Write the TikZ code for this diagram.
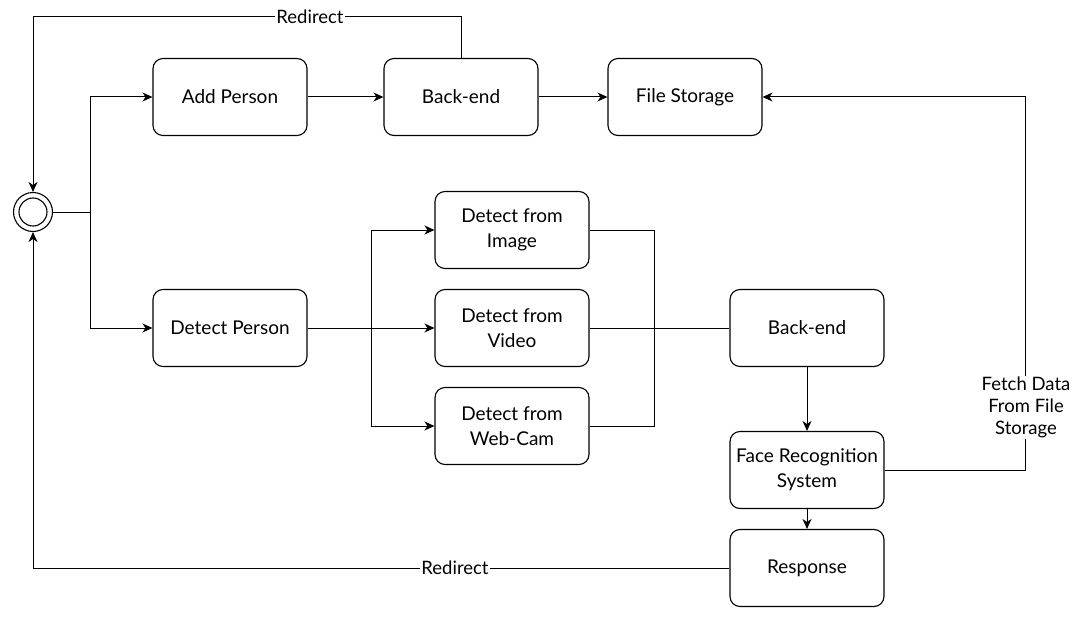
\documentclass[tikz,border=0pt]{standalone}
\usepackage{fontspec}
\setmainfont{Lato}
\usetikzlibrary{arrows.meta,calc}
\begin{document}
\begin{tikzpicture}[x=1pt,y=-1pt,
  box/.style={draw,line width=1.1pt,rounded corners=10pt,minimum width=154pt,minimum height=77pt,align=center,font=\fontsize{19}{25}\selectfont,inner sep=2pt},
  conn/.style={line width=1pt},
  arr/.style={conn,-{Stealth[length=10pt,width=9pt,inset=3pt]}},
  lbl/.style={fill=white,inner sep=1pt,font=\fontsize{18.5}{22}\selectfont,align=center}]
\useasboundingbox (0,0) rectangle (1077,634);
% nodes
\node[circle,draw,line width=1.1pt,minimum size=39pt,inner sep=0pt,
  path picture={\draw[line width=1.1pt] (path picture bounding box.center) circle (14pt);}] (start) at (33,212) {};
\node[box] (add) at (230,97) {Add Person};
\node[box] (be1) at (461,97) {Back-end};
\node[box] (fs) at (685,97) {File Storage};
\node[box] (detp) at (230,328) {Detect Person};
\node[box] (dimg) at (512,230) {Detect from\\Image};
\node[box] (dvid) at (512,328) {Detect from\\Video};
\node[box] (dcam) at (512,426) {Detect from\\Web-Cam};
\node[box] (be2) at (807,328) {Back-end};
\node[box] (frs) at (807,470) {Face Recognition\\System};
\node[box] (resp) at (807,568) {Response};
% junctions
\coordinate (j1) at (90,212);
\coordinate (j2) at (371,328);
\coordinate (j3) at (654,328);
\coordinate (j4) at (1025,470);
\coordinate (j5) at (33,568);
\coordinate (t1) at (461,17);
\coordinate (t2) at (33,17);
% connectors
\draw[conn] (start) -- (j1);
\draw[arr] (j1) |- (add);
\draw[arr] (j1) |- (detp);
\draw[arr] (add) -- (be1);
\draw[arr] (be1) -- (fs);
\draw[arr] (be1.north) -- (t1) -- (t2) -- (start.north);
\draw[conn] (detp) -- (j2);
\draw[arr] (j2) |- (dimg);
\draw[arr] (j2) -- (dvid);
\draw[arr] (j2) |- (dcam);
\draw[conn] (dimg) -| (j3);
\draw[conn] (dcam) -| (j3);
\draw[conn] (dvid) -- (be2);
\draw[arr] (be2) -- (frs);
\draw[arr] (frs) -- (resp);
\draw[arr] (frs) -- (j4) |- (fs);
\draw[arr] (resp) -- (j5) -- (start.south);
% labels
\node[lbl] (r1) at (310,17) {Redirect};
\node[lbl] (r2) at (455,568) {Redirect};
\node[lbl] (f1) at (1026,407) {Fetch Data\\From File\\Storage};
\end{tikzpicture}
\end{document}
